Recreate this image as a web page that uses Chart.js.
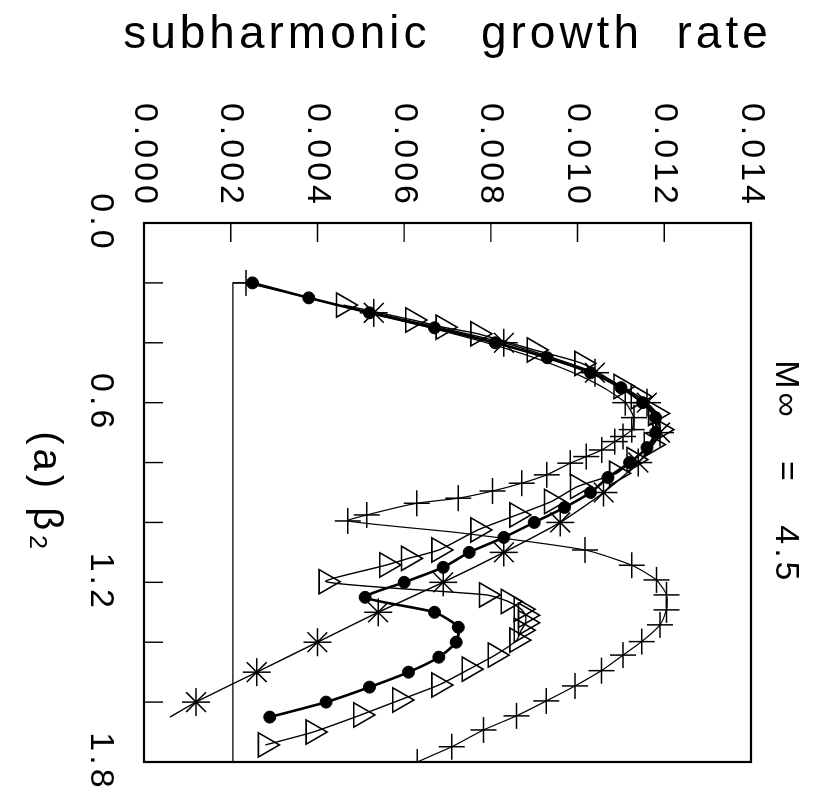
<!DOCTYPE html>
<html>
<head>
<meta charset="utf-8">
<script src="https://cdn.jsdelivr.net/npm/chart.js@4.4.1/dist/chart.umd.min.js"></script>
<style>
  html, body { margin: 0; padding: 0; background: #fff; overflow: hidden; width: 825px; height: 799px; }
  #wrap { position: absolute; left: 0; top: 0; width: 799px; height: 825px;
          transform-origin: 0 0; transform: translate(825px, 0) rotate(90deg); }
  canvas { display: block; }
</style>
</head>
<body>
<div id="wrap"><canvas id="c" width="799" height="825" style="width:799px;height:825px"></canvas></div>
<script>
// ---- data (beta_2 on x, subharmonic growth rate on y; the figure is shown rotated 90 degrees) ----
const circleBeta = [0.20,0.25,0.30,0.35,0.40,0.45,0.50,0.55,0.60,0.65,0.70,0.75,0.80,0.85,0.90,0.95,1.00,1.05,1.10,1.15,1.20,1.25,1.30,1.35,1.40,1.45,1.50,1.55,1.60,1.65];
const circleRate = [0.0025,0.0038,0.0052,0.0067,0.0081,0.0093,0.0103,0.0110,0.0115,0.0118,0.0118,0.0116,0.0112,0.0107,0.0103,0.0097,0.0090,0.0083,0.0075,0.0069,0.0060,0.0051,0.0067,0.00725,0.0072,0.0068,0.0061,0.0052,0.0042,0.0029];

const starBeta = [0.3,0.4,0.5,0.6,0.7,0.8,0.9,1.0,1.1,1.2,1.3,1.4,1.5,1.6,1.65];
const starRate = [0.0053,0.0083,0.0104,0.0116,0.0119,0.0114,0.0106,0.0096,0.0083,0.0069,0.0054,0.0040,0.0026,0.0012,0.0006];
const starShown = [1,1,1,1,1,1,1,1,1,1,1,1,1,1,0];

const plusBeta = [0.20,0.25,0.30,0.35,0.40,0.45,0.50,0.55,0.60,0.65,0.69,0.713,0.73,0.758,0.78,0.802,0.841,0.869,0.895,0.919,0.936,0.975,0.995,1.035,1.092,1.143,1.192,1.242,1.292,1.342,1.398,1.443,1.495,1.546,1.596,1.646,1.693,1.749,1.80];
const plusRate = [0.00235,0.0038,0.0052,0.0066,0.0079,0.0090,0.0099,0.0106,0.0111,0.0113,0.01125,0.01105,0.01086,0.01056,0.0102,0.00983,0.00929,0.00871,0.00804,0.00725,0.00629,0.00514,0.0047,0.0073,0.01017,0.01125,0.01182,0.01205,0.01205,0.0119,0.01148,0.01105,0.01055,0.00994,0.00928,0.00859,0.00783,0.0071,0.0063];
const plusShown = [1,0,0,0,0,0,0,0,1,1,1,1,1,1,1,1,1,1,1,1,1,1,1,0,1,1,1,1,1,1,1,1,1,1,1,1,1,1,1];

const triBeta = [0.274,0.324,0.348,0.37,0.424,0.469,0.546,0.58,0.636,0.69,0.74,0.79,0.836,0.88,0.93,0.975,1.025,1.092,1.12,1.142,1.198,1.242,1.264,1.29,1.31,1.335,1.36,1.393,1.443,1.49,1.543,1.593,1.643,1.70,1.743];
const triRate = [0.0046,0.0062,0.0069,0.0077,0.0090,0.0101,0.0110,0.0114,0.0118,0.0119,0.0117,0.0113,0.0109,0.0100,0.0094,0.0086,0.0077,0.0068,0.0061,0.0056,0.0042,0.0079,0.0084,0.0087,0.0088,0.0088,0.0087,0.0086,0.0081,0.0075,0.0068,0.0059,0.0050,0.0039,0.0028];

const refBeta = [1.8,0.2,0.2];
const refRate = [0.00205,0.00205,0.00235];

const betaTicks = [0.0, 0.6, 1.2, 1.8];
const rateTicks = [0.000,0.002,0.004,0.006,0.008,0.010,0.012,0.014];

const titleText = 'M\u221E   =   4.5   ';
const xTitle = '(a) \u03B2\u2082';
const yTitle = 'subharmonic   growth  rate';

function pts(bx, ry) { return bx.map((b, i) => ({ x: b, y: ry[i] })); }

const FONT = "'Liberation Sans', Arial, sans-serif";
const SPACING = '4px';

const spacingPlugin = {
  id: 'spacing',
  beforeLayout(chart) { chart.ctx.letterSpacing = SPACING; },
  beforeDraw(chart) { chart.ctx.letterSpacing = SPACING; }
};

const frameTicks = {
  id: 'frameTicks',
  afterDatasetsDraw(chart) {
    const { ctx, chartArea: a, scales: { x, y } } = chart;
    ctx.save();
    ctx.strokeStyle = '#000';
    ctx.lineWidth = 2.2;
    ctx.strokeRect(a.left, a.top, a.right - a.left, a.bottom - a.top);
    ctx.lineWidth = 1.4;
    ctx.beginPath();
    x.ticks.forEach((t, i) => {
      const px = x.getPixelForTick(i);
      ctx.moveTo(px, a.bottom); ctx.lineTo(px, a.bottom - 19);
    });
    y.ticks.forEach((t, i) => {
      const py = y.getPixelForTick(i);
      ctx.moveTo(a.left, py); ctx.lineTo(a.left + 19, py);
    });
    ctx.stroke();
    ctx.restore();
  }
};

const ctx = document.getElementById('c');
new Chart(ctx, {
  type: 'scatter',
  data: {
    datasets: [
      { label: 'reference', data: pts(refBeta, refRate), showLine: true, borderColor: '#000', borderWidth: 1.2, pointRadius: 0, tension: 0 },
      { label: 'circles', data: pts(circleBeta, circleRate), showLine: true, borderColor: '#000', borderWidth: 2.6,
        pointStyle: 'circle', pointRadius: 6, pointBackgroundColor: '#000', pointBorderColor: '#000', pointBorderWidth: 1, tension: 0.2 },
      { label: 'stars', data: pts(starBeta, starRate), showLine: true, borderColor: '#000', borderWidth: 1.4,
        pointStyle: 'star', pointRadius: starShown.map(s => s ? 14 : 0), pointBorderColor: '#000', pointBorderWidth: 1.5, tension: 0.2 },
      { label: 'plus', data: pts(plusBeta, plusRate), showLine: true, borderColor: '#000', borderWidth: 1.2,
        pointStyle: 'cross', pointRadius: plusShown.map(s => s ? 13 : 0), pointBorderColor: '#000', pointBorderWidth: 1.5, tension: 0.2 },
      { label: 'triangles', data: pts(triBeta, triRate), showLine: true, borderColor: '#000', borderWidth: 1.4,
        pointStyle: 'triangle', pointRadius: 14, pointBackgroundColor: 'rgba(0,0,0,0)', pointBorderColor: '#000', pointBorderWidth: 1.6, tension: 0.2 }
    ]
  },
  options: {
    responsive: false,
    devicePixelRatio: 1,
    animation: false,
    events: [],
    layout: { padding: { left: 0, right: 37, top: 0, bottom: 0 } },
    plugins: {
      legend: { display: false },
      tooltip: { enabled: false },
      title: { display: true, text: titleText, color: '#000', fullSize: false,
               font: { family: FONT, size: 34, lineHeight: 1.2, weight: 'normal' },
               padding: { top: 19, bottom: 14.2 } }
    },
    scales: {
      x: {
        type: 'linear', position: 'bottom', min: 0, max: 1.8,
        grid: { display: false }, border: { display: false },
        ticks: {
          stepSize: 0.2, autoSkip: false, maxRotation: 0, minRotation: 0, padding: 15, color: '#000',
          font: { family: FONT, size: 34 },
          callback: v => betaTicks.some(b => Math.abs(b - v) < 1e-6) ? v.toFixed(1) : ''
        },
        title: { display: true, text: xTitle, color: '#000', font: { family: FONT, size: 40, lineHeight: 1.2 }, padding: { top: 0, bottom: 21 } },
        afterFit(scale) { scale.height = 144; scale.paddingLeft = 0; scale.paddingRight = 0; }
      },
      y: {
        type: 'linear', position: 'left', min: 0, max: 0.014,
        grid: { display: false }, border: { display: false },
        ticks: {
          stepSize: 0.002, autoSkip: false, padding: 7, color: '#000',
          font: { family: FONT, size: 34 },
          callback: v => rateTicks.some(r => Math.abs(r - v) < 1e-9) ? v.toFixed(3) : ''
        },
        title: { display: true, text: yTitle, color: '#000', font: { family: FONT, size: 46, lineHeight: 1.2 }, padding: { top: 8, bottom: 0 } },
        afterFit(scale) { scale.width = 223; scale.paddingTop = 0; scale.paddingBottom = 0; }
      }
    }
  },
  plugins: [spacingPlugin, frameTicks]
});
</script>
</body>
</html>
